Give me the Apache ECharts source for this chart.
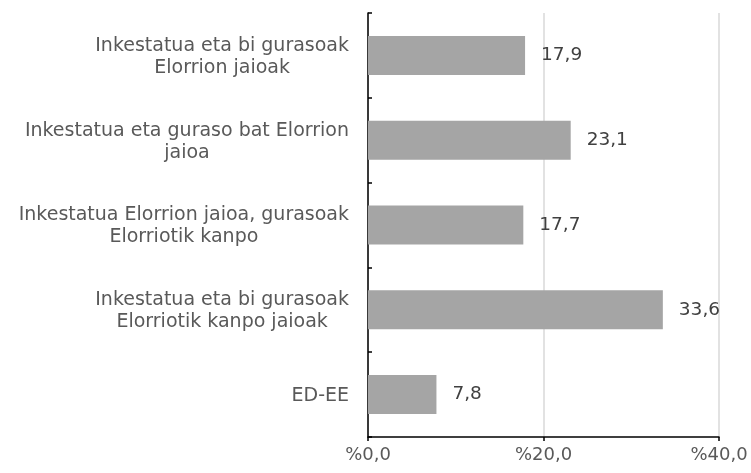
<!DOCTYPE html>
<html>
<head>
<meta charset="utf-8">
<script src="https://cdn.jsdelivr.net/npm/echarts@6/dist/echarts.min.js"></script>
<style>
  html, body { margin: 0; padding: 0; background: #fff; }
  #chart1 { width: 751px; height: 473px; }
</style>
</head>
<body>
<div id="chart1"></div>
<script>
// categories (top to bottom)
const categories = [
  'Inkestatua eta bi gurasoak\nElorrion jaioak',
  'Inkestatua eta guraso bat Elorrion\njaioa',
  'Inkestatua Elorrion jaioa, gurasoak\nElorriotik kanpo',
  'Inkestatua eta bi gurasoak\nElorriotik kanpo jaioak',
  'ED-EE'
];
const values = [17.9, 23.1, 17.7, 33.6, 7.8];
const xMin = 0;
const xMax = 40;
const xInterval = 20;

const fontFamily = '"DejaVu Sans", Verdana, sans-serif';

const chart = echarts.init(document.getElementById('chart1'));
chart.setOption({
  animation: false,
  grid: { left: 368, right: 32, top: 13, bottom: 36, containLabel: false },
  xAxis: {
    type: 'value',
    min: xMin,
    max: xMax,
    interval: xInterval,
    axisLine: { show: true, lineStyle: { color: '#000', width: 1.5 } },
    axisTick: { show: true, length: 4, lineStyle: { color: '#000', width: 1.5 } },
    axisLabel: {
      margin: 9,
      color: '#595959',
      fontSize: 18,
      fontFamily: fontFamily,
      formatter: v => '%' + v.toFixed(1).replace('.', ',')
    },
    splitLine: { show: true, lineStyle: { color: '#d9d9d9', width: 1.5 } }
  },
  yAxis: {
    type: 'category',
    inverse: true,
    data: categories,
    axisLine: { show: true, lineStyle: { color: '#000', width: 1.5 } },
    axisTick: { show: true, inside: true, length: 4, lineStyle: { color: '#000', width: 1.5 } },
    axisLabel: {
      margin: 19,
      color: '#595959',
      fontSize: 19,
      fontFamily: fontFamily,
      lineHeight: 22,
      padding: [3, 0, 0, 0],
      formatter: v => v.split('\n').map(l => '{c|' + l + '}').join('\n'),
      rich: {
        c: { align: 'center', color: '#595959', fontSize: 19, fontFamily: fontFamily, lineHeight: 22 }
      }
    }
  },
  series: [{
    type: 'bar',
    data: values,
    barWidth: 39,
    itemStyle: { color: '#a5a5a5' },
    label: {
      show: true,
      position: 'right',
      distance: 16,
      color: '#404040',
      fontSize: 18.5,
      fontFamily: fontFamily,
      formatter: p => p.value.toFixed(1).replace('.', ',')
    }
  }]
});
</script>
</body>
</html>
